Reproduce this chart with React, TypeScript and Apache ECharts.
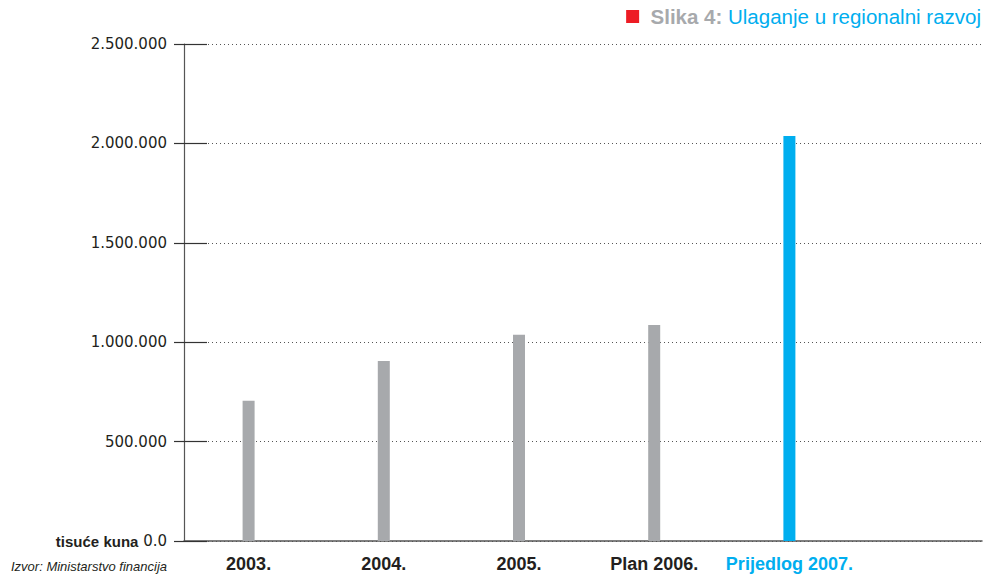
import React, { useEffect, useRef } from "react";
import * as echarts from "echarts";

const categories = ["2003.", "2004.", "2005.", "Plan 2006.", "Prijedlog 2007."];
const values = [705000, 906000, 1037000, 1087000, 2037000];
const barColors = ["#a7a9ac", "#a7a9ac", "#a7a9ac", "#a7a9ac", "#00aeef"];
const labelColors = ["#231f20", "#231f20", "#231f20", "#231f20", "#00aeef"];
const yMin = 0;
const yMax = 2500000;
const yStep = 500000;

const fmt = (v: number) => {
  if (v === 0) return "{b|tisuće kuna} {n|0.0}";
  return String(v).replace(/\B(?=(\d{3})+(?!\d))/g, ".");
};

export default function App() {
  const ref = useRef<HTMLDivElement>(null);
  useEffect(() => {
    if (!ref.current) return;
    const chart = echarts.init(ref.current, null, { renderer: "svg" });
    chart.setOption({
      animation: false,
      backgroundColor: "#ffffff",
      title: [
        {
          right: 5,
          top: 6,
          padding: 0,
          text: "{sq|}  {s|Slika 4:} {t|Ulaganje u regionalni razvoj}",
          textStyle: {
            fontWeight: "normal",
            fontFamily: "Liberation Sans",
            fontSize: 20.5,
            rich: {
              sq: { width: 13, height: 13, backgroundColor: "#ed1c24" },
              s: { fontFamily: "Liberation Sans", fontWeight: "bold", fontSize: 20.5, color: "#a7a9ac" },
              t: { fontFamily: "Liberation Sans", fontWeight: "normal", fontSize: 20.5, color: "#00aeef" },
            },
          },
        },
        {
          left: 6,
          top: 555,
          text: "Izvor: Ministarstvo financija",
          textStyle: {
            fontFamily: "Liberation Sans",
            fontStyle: "italic",
            fontWeight: "normal",
            fontSize: 13,
            color: "#231f20",
          },
        },
      ],
      grid: [
        { left: 184, width: 798, top: 44, height: 497, containLabel: false, outerBoundsMode: "none" },
        { left: 181, width: 676, top: 44, height: 497, containLabel: false, outerBoundsMode: "none" },
      ],
      xAxis: [
        {
          gridIndex: 0,
          type: "category",
          data: [""],
          axisLine: { show: true, lineStyle: { color: "#555555", width: 1.5 } },
          axisTick: { show: false },
          axisLabel: { show: false },
          splitLine: { show: false },
        },
        {
          gridIndex: 1,
          type: "category",
          data: categories.map((c, i) => ({ value: c, textStyle: { color: labelColors[i] } })),
          axisLine: { show: false },
          axisTick: { show: false },
          axisLabel: {
            interval: 0,
            margin: 14,
            fontFamily: "Liberation Sans",
            fontWeight: "bold",
            fontSize: 18,
            color: "#231f20",
          },
        },
      ],
      yAxis: [
        {
          gridIndex: 0,
          type: "value",
          min: yMin,
          max: yMax,
          interval: yStep,
          axisLine: { show: true, lineStyle: { color: "#555555", width: 1.2 } },
          axisTick: { show: true, inside: false, length: 10, lineStyle: { color: "#333333", width: 1.2 } },
          axisLabel: {
            margin: 17,
            fontFamily: "DejaVu Sans",
            fontSize: 15,
            color: "#231f20",
            formatter: fmt,
            rich: {
              b: { fontFamily: "Liberation Sans", fontWeight: "bold", fontSize: 15, color: "#231f20" },
              n: { fontFamily: "DejaVu Sans", fontWeight: "normal", fontSize: 15, color: "#231f20" },
            },
          },
          splitLine: { show: true, lineStyle: { color: "#555555", type: [1, 3], width: 1 } },
        },
        {
          gridIndex: 0,
          type: "value",
          position: "left",
          min: yMin,
          max: yMax,
          interval: yStep,
          axisLine: { show: false },
          axisTick: { show: true, inside: true, length: 23, lineStyle: { color: "#333333", width: 1.2 } },
          axisLabel: { show: false },
          splitLine: { show: false },
        },
        {
          gridIndex: 1,
          type: "value",
          min: yMin,
          max: yMax,
          interval: yStep,
          show: false,
        },
      ],
      series: [
        {
          type: "bar",
          xAxisIndex: 1,
          yAxisIndex: 2,
          barWidth: 12,
          data: values.map((v, i) => ({ value: v, itemStyle: { color: barColors[i] } })),
        },
      ],
    });
    return () => chart.dispose();
  }, []);
  return <div ref={ref} style={{ width: 986, height: 574, position: "absolute", left: 0, top: 0 }} />;
}
